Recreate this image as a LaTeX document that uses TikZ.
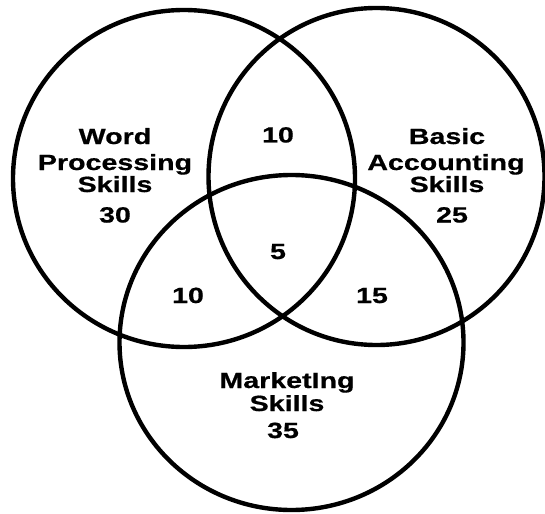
\documentclass[tikz,border=0pt]{standalone}
\usepackage{fontspec}
\newfontfamily\vennfont[FakeStretch=1.3,FakeBold=0.6]{Liberation Sans}
\tikzset{
  ring/.style={draw=black, line width=4.4pt},
  lbl/.style={anchor=base, inner sep=0pt, font=\vennfont\bfseries\fontsize{22}{24}\selectfont}
}
\begin{document}
\begin{tikzpicture}[x=1pt, y=-1pt]
\useasboundingbox (0,0) rectangle (545,513);
\fill[white] (0,0) rectangle (545,513);
% circles
\draw[ring] (184,178.5) ellipse [x radius=171pt, y radius=168.5pt];
\draw[ring] (376.5,176.5) ellipse [x radius=168pt, y radius=168.5pt];
\draw[ring] (291.5,342.5) ellipse [x radius=172pt, y radius=167.5pt];
% left set
\node[lbl] (w1) at (115,144) {Word};
\node[lbl] (w2) at (115,170) {Processing};
\node[lbl] (w3) at (115,192) {Skills};
\node[lbl] (wn) at (115,222.5) {30};
% right set
\node[lbl] (a1) at (447,144) {Basic};
\node[lbl] (a2) at (446,170) {Accounting};
\node[lbl] (a3) at (447,192) {Skills};
\node[lbl] (an) at (452,222.5) {25};
% bottom set
\node[lbl] (m1) at (287,388) {MarketIng};
\node[lbl] (m2) at (287,411) {Skills};
\node[lbl] (mn) at (283,438) {35};
% intersections
\node[lbl] (wa) at (278,142.5) {10};
\node[lbl] (wam) at (278,259) {5};
\node[lbl] (wm) at (188,303) {10};
\node[lbl] (am) at (372,303) {15};
\end{tikzpicture}
\end{document}
